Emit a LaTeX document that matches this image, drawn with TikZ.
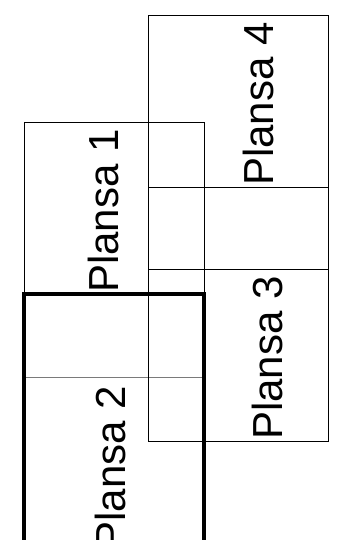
\documentclass[tikz,border=0pt]{standalone}
\usepackage{fontspec}
\setmainfont{Liberation Sans}
\usepackage{xcolor}
\definecolor{edge}{HTML}{000000}
\definecolor{seam}{HTML}{7A7A7A}

\begin{document}
\begin{tikzpicture}[x=1pt, y=-1pt,
    sheet/.style={draw=edge, line width=0.7pt},
    active/.style={draw=edge, line width=3.3pt},
    title/.style={rotate=90, inner sep=0pt, font=\fontsize{42}{42}\selectfont}]
  \useasboundingbox (0,0) rectangle (349,540);
  \clip (0,0) rectangle (349,540);
  \draw[sheet] (24,122) -- (204,122) -- (204,294);
  \draw[sheet] (24,122) -- (24,294);
  \draw[sheet, draw=seam] (24,377) -- (204,377);
  \draw[sheet] (148,15) rectangle (328,269);
  \draw[sheet] (148,187) rectangle (328,441);
  \draw[active] (24,560) -- (24,294) -- (204,294) -- (204,560);
  \node[title, anchor=base west] (p1) at (118,293) {Plansa 1};
  \node[title, anchor=base east] (p2) at (125,386) {Plansa 2};
  \node[title, anchor=base west] (p3) at (282,440) {Plansa 3};
  \node[title, anchor=base west] (p4) at (273,186) {Plansa 4};
\end{tikzpicture}
\end{document}
